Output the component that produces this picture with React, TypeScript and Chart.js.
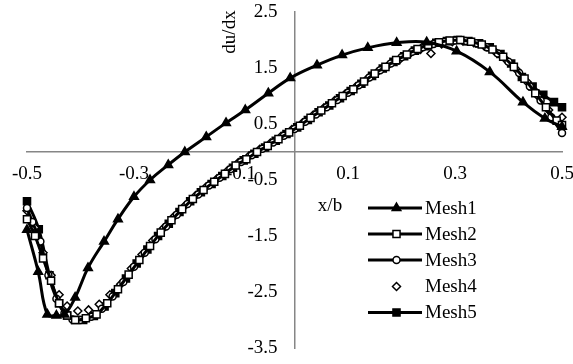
import React, { useEffect, useRef } from 'react';
import { Chart, registerables } from 'chart.js';
import { drawPoint } from 'chart.js/helpers';
Chart.register(...registerables);

const seriesNames = ['Mesh1', 'Mesh2', 'Mesh3', 'Mesh4', 'Mesh5'];
const xTicks = [-0.5, -0.3, -0.1, 0.1, 0.3, 0.5];
const yTicks = [-3.5, -2.5, -1.5, -0.5, 0.5, 1.5, 2.5];

const mesh1X = [-0.5, -0.479, -0.462, -0.445, -0.43, -0.41, -0.386, -0.356, -0.33, -0.3, -0.27, -0.236, -0.205, -0.165, -0.128, -0.092, -0.049, -0.008, 0.042, 0.089, 0.137, 0.191, 0.247, 0.303, 0.365, 0.427, 0.468, 0.5];
const mesh1Y = [-1.39, -2.14, -2.9, -2.92, -2.9, -2.6, -2.07, -1.6, -1.2, -0.8, -0.5, -0.23, 0.0, 0.27, 0.52, 0.75, 1.05, 1.32, 1.55, 1.73, 1.86, 1.95, 1.96, 1.8, 1.43, 0.89, 0.6, 0.45];

const mesh2X = [-0.5, -0.485, -0.47, -0.455, -0.44, -0.425, -0.41, -0.39, -0.37, -0.35, -0.33, -0.31, -0.29, -0.27, -0.25, -0.23, -0.21, -0.19, -0.17, -0.15, -0.13, -0.11, -0.09, -0.07, -0.05, -0.03, -0.01, 0.01, 0.03, 0.05, 0.07, 0.09, 0.11, 0.13, 0.15, 0.17, 0.19, 0.21, 0.23, 0.25, 0.27, 0.29, 0.31, 0.33, 0.35, 0.37, 0.39, 0.41, 0.43, 0.45, 0.47, 0.49, 0.5];
const mesh2Y = [-1.2, -1.5, -1.9, -2.3, -2.7, -2.92, -3.0, -2.97, -2.9, -2.7, -2.45, -2.19, -1.93, -1.68, -1.44, -1.22, -1.02, -0.84, -0.68, -0.53, -0.39, -0.24, -0.13, 0.0, 0.11, 0.23, 0.35, 0.47, 0.61, 0.74, 0.87, 1.0, 1.12, 1.26, 1.4, 1.52, 1.64, 1.74, 1.84, 1.91, 1.96, 1.99, 2.0, 1.97, 1.92, 1.83, 1.7, 1.52, 1.31, 1.05, 0.8, 0.56, 0.48];

const mesh3X = [-0.5, -0.49, -0.475, -0.46, -0.445, -0.43, -0.415, -0.4, -0.38, -0.36, -0.34, -0.32, -0.3, -0.28, -0.26, -0.24, -0.22, -0.2, -0.18, -0.16, -0.14, -0.12, -0.1, -0.08, -0.06, -0.04, -0.02, 0, 0.02, 0.04, 0.06, 0.08, 0.1, 0.12, 0.14, 0.16, 0.18, 0.2, 0.22, 0.24, 0.26, 0.28, 0.3, 0.32, 0.34, 0.36, 0.38, 0.4, 0.42, 0.44, 0.46, 0.48, 0.5];
const mesh3Y = [-1.0, -1.25, -1.6, -2.2, -2.62, -2.88, -2.99, -3.0, -2.94, -2.8, -2.58, -2.32, -2.05, -1.8, -1.56, -1.33, -1.12, -0.93, -0.76, -0.6, -0.46, -0.31, -0.18, -0.06, 0.06, 0.17, 0.29, 0.41, 0.54, 0.67, 0.8, 0.93, 1.06, 1.19, 1.33, 1.46, 1.58, 1.69, 1.79, 1.87, 1.93, 1.97, 1.99, 1.98, 1.94, 1.87, 1.76, 1.61, 1.41, 1.17, 0.92, 0.62, 0.34];

const mesh4X = [-0.5, -0.485, -0.47, -0.455, -0.44, -0.425, -0.405, -0.385, -0.365, -0.345, -0.325, -0.305, -0.285, -0.265, -0.245, -0.225, -0.205, -0.185, -0.165, -0.145, -0.125, -0.105, -0.085, -0.065, -0.045, -0.025, -0.005, 0.015, 0.035, 0.055, 0.075, 0.095, 0.115, 0.135, 0.155, 0.175, 0.195, 0.215, 0.235, 0.255, 0.275, 0.295, 0.315, 0.335, 0.355, 0.375, 0.395, 0.415, 0.435, 0.455, 0.475, 0.5];
const mesh4Y = [-1.05, -1.35, -1.8, -2.2, -2.55, -2.75, -2.84, -2.82, -2.72, -2.55, -2.36, -2.08, -1.83, -1.58, -1.36, -1.15, -0.96, -0.78, -0.62, -0.48, -0.33, -0.19, -0.07, 0.05, 0.16, 0.28, 0.4, 0.52, 0.66, 0.79, 0.92, 1.04, 1.17, 1.3, 1.43, 1.55, 1.64, 1.75, 1.83, 1.76, 1.93, 1.97, 1.98, 1.95, 1.89, 1.79, 1.65, 1.47, 1.25, 1.0, 0.75, 0.62];

const mesh5X = [-0.5, -0.478, -0.458, -0.44, -0.425, -0.41, -0.395, -0.375, -0.355, -0.335, -0.315, -0.295, -0.275, -0.255, -0.235, -0.215, -0.195, -0.175, -0.155, -0.135, -0.115, -0.095, -0.075, -0.055, -0.035, -0.015, 0.005, 0.025, 0.045, 0.065, 0.085, 0.105, 0.125, 0.145, 0.165, 0.185, 0.205, 0.225, 0.245, 0.265, 0.285, 0.305, 0.325, 0.345, 0.365, 0.385, 0.405, 0.425, 0.445, 0.465, 0.485, 0.5];
const mesh5Y = [-0.88, -1.38, -2.2, -2.7, -2.92, -3.0, -3.0, -2.93, -2.76, -2.52, -2.26, -1.99, -1.74, -1.5, -1.28, -1.07, -0.88, -0.72, -0.57, -0.43, -0.28, -0.15, -0.03, 0.08, 0.2, 0.32, 0.44, 0.57, 0.71, 0.83, 0.96, 1.09, 1.22, 1.36, 1.49, 1.61, 1.71, 1.81, 1.89, 1.95, 1.98, 2.0, 1.98, 1.94, 1.87, 1.75, 1.58, 1.34, 1.17, 1.02, 0.89, 0.8];

const FONT = "'Liberation Serif', 'Times New Roman', serif";

type Style = { pointStyle: any; radius: number; fill: string; line: boolean; lineWidth: number };
const styles: Style[] = [
  { pointStyle: 'triangle', radius: 5, fill: '#000', line: true, lineWidth: 3 },
  { pointStyle: 'rect', radius: 5, fill: '#fff', line: true, lineWidth: 3 },
  { pointStyle: 'circle', radius: 3.5, fill: '#fff', line: true, lineWidth: 3 },
  { pointStyle: 'rectRot', radius: 4, fill: '#fff', line: false, lineWidth: 0 },
  { pointStyle: 'rect', radius: 5, fill: '#000', line: true, lineWidth: 3 },
];

const xs = [mesh1X, mesh2X, mesh3X, mesh4X, mesh5X];
const ys = [mesh1Y, mesh2Y, mesh3Y, mesh4Y, mesh5Y];

const extrasPlugin = {
  id: 'extras',
  beforeDraw(chart: any) {
    const ysc = chart.scales.y;
    if (ysc && !ysc.__patched) {
      const orig = ysc.drawLabels.bind(ysc);
      ysc.drawLabels = (area: any) => {
        chart.ctx.save();
        chart.ctx.translate(-17, 0);
        orig(area);
        chart.ctx.restore();
      };
      ysc.__patched = true;
    }
  },
  afterDraw(chart: any) {
    const ctx = chart.ctx as CanvasRenderingContext2D;
    ctx.save();
    ctx.fillStyle = '#000';
    ctx.font = `19px ${FONT}`;
    // axis titles
    ctx.textAlign = 'center';
    ctx.textBaseline = 'middle';
    ctx.fillText('x/b', 330, 206);
    ctx.save();
    ctx.translate(230, 32);
    ctx.rotate(-Math.PI / 2);
    ctx.fillText('du/dx', 0, 0);
    ctx.restore();
    // legend
    const rowY = [208, 234, 260, 286.5, 312.5];
    seriesNames.forEach((name, i) => {
      const st = styles[i];
      const y = rowY[i];
      if (st.line) {
        ctx.beginPath();
        ctx.strokeStyle = '#000';
        ctx.lineWidth = 3;
        ctx.moveTo(368, y);
        ctx.lineTo(422, y);
        ctx.stroke();
      }
      ctx.fillStyle = st.fill;
      ctx.strokeStyle = '#000';
      ctx.lineWidth = 1.5;
      drawPoint(ctx, { pointStyle: st.pointStyle, radius: st.radius, rotation: 0, borderWidth: 1.5 }, 396.5, y);
      ctx.fillStyle = '#000';
      ctx.textAlign = 'left';
      ctx.textBaseline = 'middle';
      ctx.fillText(name, 425, y + 1);
    });
    ctx.restore();
  },
};

export default function App() {
  const ref = useRef<HTMLCanvasElement>(null);
  useEffect(() => {
    if (!ref.current) return;
    const datasets = seriesNames.map((name, i) => {
      const st = styles[i];
      return {
        label: name,
        data: xs[i].map((x, j) => ({ x, y: ys[i][j] })),
        borderColor: '#000',
        backgroundColor: '#000',
        borderWidth: st.lineWidth,
        showLine: st.line,
        tension: 0.4,
        pointStyle: st.pointStyle,
        pointRadius: st.radius,
        pointBackgroundColor: st.fill,
        pointBorderColor: '#000',
        pointBorderWidth: 1.5,
        clip: false as any,
      };
    });
    const chart = new Chart(ref.current, {
      type: 'scatter',
      data: { datasets: datasets as any },
      plugins: [extrasPlugin],
      options: {
        animation: false,
        responsive: true,
        maintainAspectRatio: false,
        layout: { padding: { left: 27, right: 11, top: 12, bottom: 16 } },
        plugins: { legend: { display: false }, tooltip: { enabled: false } },
        scales: {
          x: {
            type: 'linear',
            min: -0.5,
            max: 0.5,
            position: { y: 0 } as any,
            grid: { display: false, drawTicks: false },
            border: { display: true, color: '#868686', width: 1.5 },
            afterBuildTicks: (s: any) => { s.ticks = xTicks.map((v) => ({ value: v })); },
            afterFit: (s: any) => { s.height = 0; s.paddingLeft = 0; s.paddingRight = 0; s.paddingTop = 0; s.paddingBottom = 0; },
            ticks: {
              padding: 11,
              maxRotation: 0,
              autoSkip: false,
              color: '#000',
              font: { family: FONT, size: 19 },
              callback: (v: any) => Number(v).toFixed(1),
            },
          },
          y: {
            type: 'linear',
            min: -3.5,
            max: 2.5,
            position: { x: 0 } as any,
            grid: { display: false, drawTicks: false },
            border: { display: true, color: '#868686', width: 1.5 },
            afterBuildTicks: (s: any) => { s.ticks = yTicks.map((v) => ({ value: v })); },
            afterFit: (s: any) => { s.width = 0; s.paddingLeft = 0; s.paddingRight = 0; s.paddingTop = 0; s.paddingBottom = 0; },
            ticks: {
              autoSkip: false,
              color: '#000',
              font: { family: FONT, size: 19 },
              callback: (v: any) => Number(v).toFixed(1),
            },
          },
        },
      },
    });
    return () => chart.destroy();
  }, []);
  return (
    <div style={{ position: 'fixed', left: 0, top: 0, width: 573, height: 364, background: '#fff' }}>
      <canvas ref={ref} />
    </div>
  );
}
